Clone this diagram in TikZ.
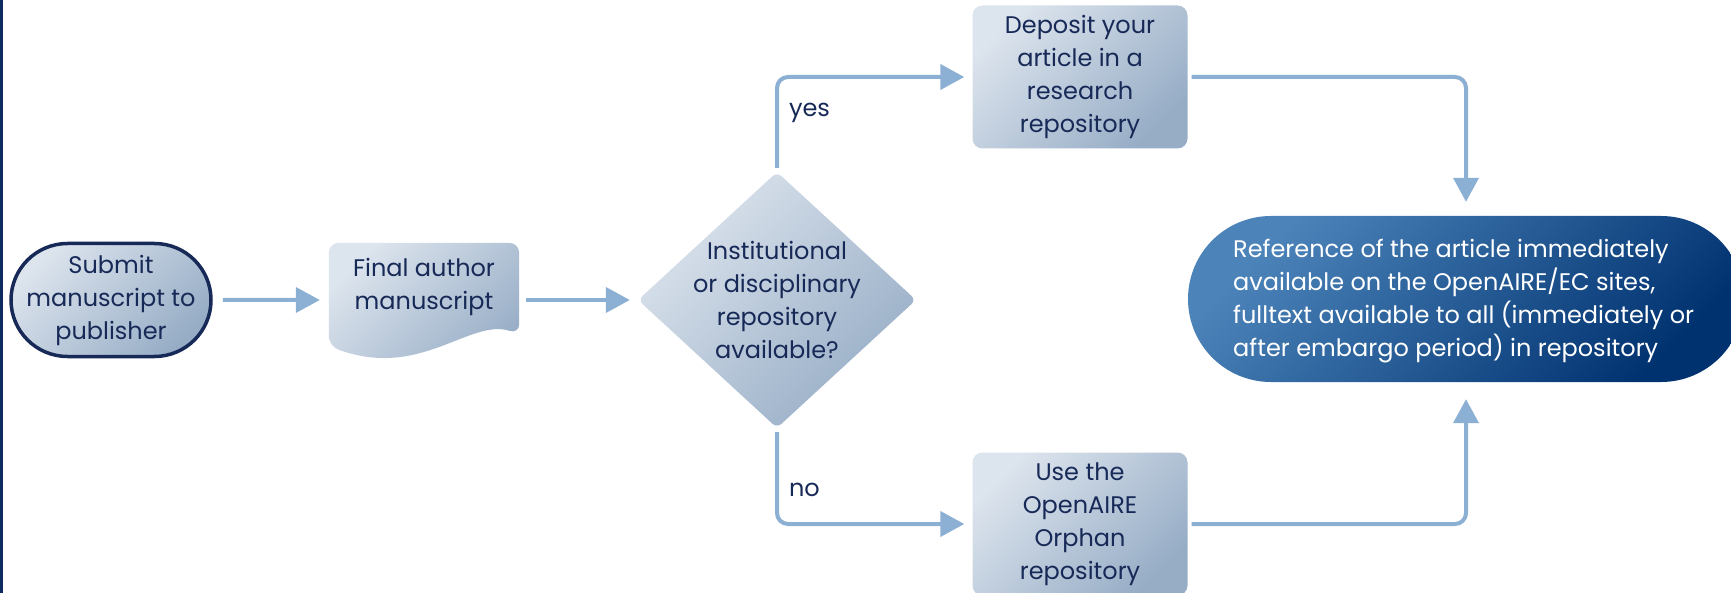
\documentclass[tikz,border=0pt]{standalone}
\usepackage{fontspec}
\setmainfont{Poppins}
\usetikzlibrary{shapes.geometric,shapes.misc,arrows.meta}
\definecolor{navy}{HTML}{172957}
\definecolor{barblue}{HTML}{0E2A5E}
\definecolor{arrowc}{HTML}{8CB0D4}
\definecolor{boxlight}{HTML}{DCE4ED}
\definecolor{boxdark}{HTML}{97ADC6}
\definecolor{pilllight}{HTML}{4C84BA}
\definecolor{pilldark}{HTML}{003270}
\begin{document}
\begin{tikzpicture}[x=1pt,y=-1pt,
  txt/.style={text=navy,font=\fontsize{24}{33}\selectfont,align=center,inner sep=0pt},
  boxfill/.style={top color=boxlight,bottom color=boxdark,shading angle=45},
  procbox/.style={rectangle,rounded corners=10pt,boxfill,minimum width=215pt,minimum height=143pt,inner sep=0pt,txt},
  terminal/.style={rounded rectangle,boxfill,draw=navy,line width=3.5pt,minimum width=200pt,minimum height=113pt,inner sep=0pt},
  dia/.style={diamond,boxfill,rounded corners=6pt,minimum width=278pt,minimum height=256pt,inner sep=0pt},
  pill/.style={rounded rectangle,top color=pilllight,bottom color=pilldark,shading angle=45,minimum width=556pt,minimum height=166pt,inner sep=0pt},
  conn/.style={draw=arrowc,line width=4pt,-{Triangle[length=24pt,width=25pt]},rounded corners=11pt},
  lbl/.style={text=navy,font=\fontsize{24}{33}\selectfont,inner sep=0pt,anchor=west,xshift=10pt},
]
\clip (0,0) rectangle (1731,593);
\fill[white] (0,0) rectangle (1731,593);
\fill[barblue] (0,0) rectangle (3,593);

% start terminal
\node[terminal] (submit) at (111,300) {};
\node[txt] (submittxt) at (submit) {Submit\\manuscript to\\publisher};

% document shape
\node[minimum width=190pt,minimum height=114pt,inner sep=0pt] (doc) at (424,300) {};
\shade[boxfill,rounded corners=10pt] (doc.west |- 0,346) -- (doc.north west) -- (doc.north east) -- (doc.east |- 0,334)
  .. controls (470,318) and (420,380) .. (doc.west |- 0,346) -- cycle;
\node[txt] (doctxt) at (424,287) {Final author\\manuscript};

% decision
\node[dia] (q) at (777,300) {};
\node[txt] (qtxt) at (q) {Institutional\\or disciplinary\\repository\\available?};

% process boxes
\node[procbox] (dep) at (1080,77) {Deposit your\\article in a\\research\\repository};
\node[procbox] (orph) at (1080,524) {Use the\\OpenAIRE\\Orphan\\repository};

% final terminal
\node[pill] (ref) at (1466,299) {};
\node[text=white,font=\fontsize{24}{33}\selectfont,align=left,inner sep=0pt,anchor=west] (reftxt) at (1233,301)
  {Reference of the article immediately\\available on the OpenAIRE/EC sites,\\fulltext available to all (immediately or\\after embargo period) in repository};

% connectors
\draw[conn,shorten <=10pt,shorten >=9pt] (submit) -- (doc);
\draw[conn,shorten <=7pt,shorten >=8pt] (doc) -- (q);
\draw[conn,shorten <=4pt,shorten >=8pt] (q.north) |- node[lbl,pos=0.31] (yes) {yes} (dep.west);
\draw[conn,shorten <=4pt,shorten >=8pt] (q.south) |- node[lbl,pos=0.32] (no) {no} (orph.west);
\draw[conn,shorten <=4pt,shorten >=14pt] (dep.east) -| (ref.north);
\draw[conn,shorten <=4pt,shorten >=17pt] (orph.east) -| (ref.south);
\end{tikzpicture}
\end{document}
